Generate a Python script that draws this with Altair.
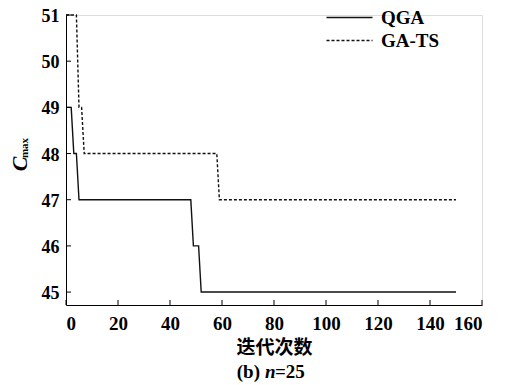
import altair as alt
import pandas as pd

qga_x = [0, 2, 3, 4, 5, 48, 49, 51, 52, 150]
qga_y = [49, 49, 48, 48, 47, 47, 46, 46, 45, 45]
gats_x = [0, 4, 5, 6, 7, 58, 59, 150]
gats_y = [51, 51, 49, 49, 48, 48, 47, 47]
series = ["QGA", "GA-TS"]
x_ticks = [0, 20, 40, 60, 80, 100, 120, 140, 160]
y_ticks = [45, 46, 47, 48, 49, 50, 51]

rows = []
for i, (x, y) in enumerate(zip(qga_x, qga_y)):
    rows.append({"series": "QGA", "iter": x, "cmax": y, "o": i})
for i, (x, y) in enumerate(zip(gats_x, gats_y)):
    rows.append({"series": "GA-TS", "iter": x, "cmax": y, "o": i})
df = pd.DataFrame(rows)

W, H = 416, 290
SERIF = "Liberation Serif"

xs = alt.Scale(domain=[0, 160], nice=False)
ys = alt.Scale(domain=[44.72, 51.0], nice=False, zero=False)

lines = alt.Chart(df).mark_line(color="#111111", strokeWidth=1.4).encode(
    x=alt.X("iter:Q", scale=xs, axis=alt.Axis(
        values=x_ticks, title="迭代次数", tickSize=0, labelPadding=9,
        labelFont=SERIF, labelFontWeight="bold", labelFontSize=19, labelColor="black",
        titleFont="Noto Sans CJK SC", titleFontWeight="bold", titleFontSize=19,
        titleColor="black", titlePadding=5, domainColor="black", grid=False)),
    y=alt.Y("cmax:Q", scale=ys, axis=alt.Axis(
        values=y_ticks, title=None, tickSize=0, labelPadding=7, labelOffset=1.5,
        labelFont=SERIF, labelFontWeight="bold", labelFontSize=18, labelColor="black",
        domainColor="black", grid=False)),
    strokeDash=alt.StrokeDash("series:N", scale=alt.Scale(domain=series, range=[[1, 0], [3, 2]]),
        legend=alt.Legend(title=None, orient="none", legendX=256, legendY=-7,
            symbolType="M-1,0H8.2", symbolSize=100, symbolStrokeWidth=1.4,
            symbolStrokeColor="#111111", labelFont=SERIF, labelFontWeight="bold",
            labelFontSize=19, labelColor="black", labelOffset=40, rowPadding=3)),
    order="o:Q",
)

xt = pd.DataFrame({"v": x_ticks})
yt = pd.DataFrame({"v": y_ticks})
xtick = alt.Chart(xt).mark_rule(color="black", strokeWidth=1).encode(
    x=alt.X("v:Q", scale=xs), y=alt.value(H), y2=alt.value(H - 5))
ytick = alt.Chart(yt).mark_rule(color="black", strokeWidth=1).encode(
    y=alt.Y("v:Q", scale=ys), x=alt.value(0), x2=alt.value(5))

def txt(t, x, y, size, style="normal", weight="bold", font=SERIF, align="center", angle=0):
    return alt.Chart(pd.DataFrame({"t": [t]})).mark_text(
        font=font, fontSize=size, fontStyle=style, fontWeight=weight, align=align,
        baseline="middle", angle=angle, color="black").encode(
        text="t:N", x=alt.value(x), y=alt.value(y))

c_lbl = txt("C", 20 - 66, 164 - 15, 22, style="italic", angle=270)
max_lbl = txt("max", 25 - 66, 148 - 15, 11, angle=270)
cap1 = txt("(b)", 260 - 66, 372 - 15, 19, align="right")
cap2 = txt("n", 265 - 66, 372 - 15, 19, style="italic", align="left")
cap3 = txt("=25", 275 - 66, 372 - 15, 19, align="left")

chart = alt.layer(lines, xtick, ytick, c_lbl, max_lbl, cap1, cap2, cap3).properties(
    width=W, height=H, autosize=alt.AutoSizeParams(type="none"),
    padding={"left": 58, "top": 7, "right": 19, "bottom": 80},
).configure_view(stroke=None).configure(background="white")

chart.save("out.html", embed_options={"renderer": "svg", "actions": False})
